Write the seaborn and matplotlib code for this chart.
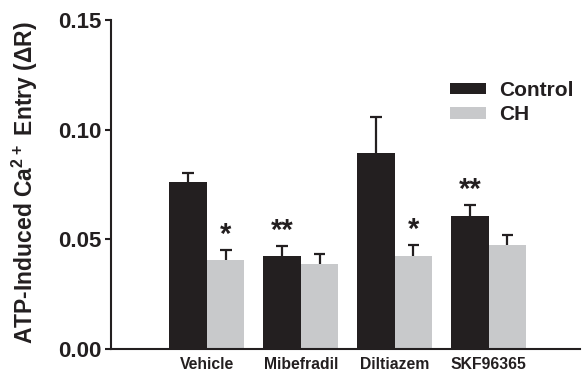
import matplotlib
matplotlib.use("Agg")
import matplotlib.pyplot as plt
import seaborn as sns
import pandas as pd
import numpy as np
from matplotlib.patches import Patch

sns.set_style("ticks")
plt.rcParams['font.family'] = ['Liberation Sans', 'DejaVu Sans']
plt.rcParams['font.weight'] = 'bold'
plt.rcParams['mathtext.default'] = 'regular'

categories = ["Vehicle", "Mibefradil", "Diltiazem", "SKF96365"]
groups = ["Control", "CH"]
control_vals = [0.0760, 0.0423, 0.0894, 0.0608]
ch_vals = [0.0405, 0.0386, 0.0423, 0.0473]
control_err = [0.0043, 0.0047, 0.0164, 0.0047]
ch_err = [0.0046, 0.0049, 0.0051, 0.0045]
control_sig = ["", "**", "", "**"]
ch_sig = ["*", "", "*", ""]
yticks = [0.00, 0.05, 0.10, 0.15]

colors = {"Control": "#231f20", "CH": "#c8c9cb"}
ink = "#231f20"

df = pd.DataFrame({
    "treatment": categories * 2,
    "group": ["Control"] * 4 + ["CH"] * 4,
    "value": control_vals + ch_vals,
    "err": control_err + ch_err,
    "sig": control_sig + ch_sig,
})

fig = plt.figure(figsize=(5.82, 3.75), dpi=100)
ax = fig.add_axes([0.191, 0.0693, 0.805, 0.8774])

sns.barplot(data=df, x="treatment", y="value", hue="group", order=categories,
            hue_order=groups, palette=colors, width=0.8, errorbar=None,
            saturation=1, linewidth=0, ax=ax, legend=False)

cap_half = 0.062
for gi, g in enumerate(groups):
    cont = ax.containers[gi]
    sub = df[df.group == g].set_index("treatment").loc[categories]
    for bar, (_, row) in zip(cont.patches, sub.iterrows()):
        xc = bar.get_x() + bar.get_width() / 2
        top = bar.get_height()
        ax.vlines(xc, top, top + row.err, color=ink, linewidth=1.6, zorder=3)
        ax.hlines(top + row.err, xc - cap_half, xc + cap_half, color=ink,
                  linewidth=1.6, zorder=3)
        if row.sig:
            ax.text(xc, top + row.err + 0.0005, row.sig, ha="center",
                    va="bottom", fontsize=21, fontweight="bold", color=ink)

ax.set_xlim(-1.02, 3.97)
ax.set_ylim(0, 0.15)
ax.set_yticks(yticks)
ax.set_yticklabels([f"{t:.2f}" for t in yticks], fontsize=16, fontweight="bold",
                   color=ink)
ax.tick_params(axis="x", length=0, pad=6, labelsize=11.3, labelcolor=ink)
ax.tick_params(axis="y", length=4, width=1.5, direction="out", pad=3, color=ink)
for lab in ax.get_xticklabels():
    lab.set_fontweight("bold")
ax.set_xlabel("")
ax.set_ylabel(r"ATP-Induced Ca$^{2+}$ Entry ($\Delta$R)",
              fontsize=16.5, fontweight="bold", color=ink)
ax.yaxis.set_label_coords(-0.152, 0.506)
for s in ["top", "right"]:
    ax.spines[s].set_visible(False)
for s in ["left", "bottom"]:
    ax.spines[s].set_linewidth(1.5)
    ax.spines[s].set_color(ink)

handles = [Patch(facecolor=colors[g], edgecolor="none", label=g) for g in groups]
leg = ax.legend(handles=handles, loc="upper left", bbox_to_anchor=(0.723, 0.815),
                frameon=False, fontsize=15, handlelength=1.75, handleheight=0.5,
                labelspacing=0.25, handletextpad=0.6, borderaxespad=0,
                borderpad=0)
for t in leg.get_texts():
    t.set_fontweight("bold")
    t.set_color(ink)

fig.savefig("out.png", dpi=100)
